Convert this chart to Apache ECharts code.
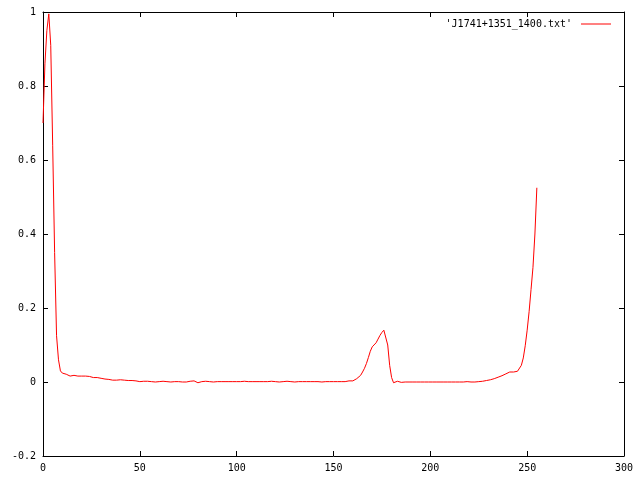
<!DOCTYPE html>
<html>
<head>
<meta charset="utf-8">
<script src="https://cdn.jsdelivr.net/npm/echarts@6/dist/echarts.min.js"></script>
<style>html,body{margin:0;padding:0;background:#fff}#c{width:640px;height:480px}</style>
</head>
<body>
<div id="c"></div>
<script>
var seriesName = "'J1741+1351_1400.txt'";
var xTicks = [0, 50, 100, 150, 200, 250, 300];
var yTicks = [-0.2, 0, 0.2, 0.4, 0.6, 0.8, 1];
var intensity = [
  0.70, 0.86, 0.95, 0.995, 0.91, 0.64, 0.35, 0.125, 0.06, 0.03,
  0.024, 0.021, 0.021, 0.02, 0.016, 0.017, 0.018, 0.016, 0.016, 0.016,
  0.016, 0.016, 0.016, 0.016, 0.015, 0.012, 0.012, 0.012, 0.012, 0.012,
  0.01, 0.007, 0.008, 0.007, 0.007, 0.006, 0.005, 0.005, 0.005, 0.006,
  0.006, 0.006, 0.005, 0.003, 0.004, 0.004, 0.004, 0.003, 0.003, 0.002,
  0.001, 0.001, 0.002, 0.001, 0.002, 0.001, 0.001, 0.0, 0.0, 0.0,
  0.001, 0.001, 0.002, 0.001, 0.001, 0.001, 0.0, 0.001, 0.001, 0.001,
  0.001, 0.001, 0.0, 0.0, 0.0, 0.001, 0.002, 0.002, 0.003, 0.001,
  -0.002, 0.001, 0.001, 0.001, 0.002, 0.001, 0.001, 0.001, 0.0, 0.001,
  0.001, 0.002, 0.001, 0.001, 0.001, 0.0, 0.001, 0.002, 0.001, 0.001,
  0.001, 0.0, 0.001, 0.001, 0.002, 0.001, 0.001, 0.0, 0.001, 0.001,
  0.001, 0.002, 0.001, 0.001, 0.001, 0.0, 0.001, 0.001, 0.002, 0.001,
  0.001, 0.001, 0.0, 0.001, 0.001, 0.001, 0.002, 0.001, 0.001, 0.001,
  0.0, 0.001, 0.001, 0.002, 0.001, 0.001, 0.001, 0.0, 0.001, 0.001,
  0.001, 0.002, 0.001, 0.001, 0.0, 0.001, 0.001, 0.002, 0.001, 0.001,
  0.001, 0.0, 0.001, 0.001, 0.001, 0.0, 0.001, 0.002, 0.003, 0.001,
  0.003, 0.005, 0.009, 0.013, 0.018, 0.027, 0.037, 0.05, 0.066, 0.083,
  0.095, 0.1, 0.106, 0.116, 0.126, 0.134, 0.14, 0.145, 0.10, 0.045,
  0.012, -0.002, 0.001, 0.002, -0.003, -0.001, 0.0, 0.0, 0.0, 0.0,
  0.0, 0.0, 0.0, 0.0, 0.001, 0.0, 0.0, 0.0, 0.0, 0.0,
  0.0, 0.0, 0.0, 0.0, 0.001, 0.0, 0.0, 0.0, 0.0, 0.0,
  0.0, 0.0, 0.001, 0.0, 0.0, 0.0, 0.0, 0.0, 0.0, 0.001,
  0.0, 0.0, 0.001, 0.0, 0.001, 0.001, 0.001, 0.002, 0.003, 0.004,
  0.005, 0.006, 0.007, 0.009, 0.01, 0.013, 0.016, 0.017, 0.019, 0.022,
  0.027, 0.027, 0.027, 0.027, 0.028, 0.029, 0.033, 0.045, 0.065, 0.098,
  0.14, 0.19, 0.25, 0.31, 0.40, 0.525
];

var data = intensity.map(function (v, i) { return [i, v]; });
var font = 'DejaVu Sans Mono';
var axisLine = { show: true, onZero: false, lineStyle: { color: '#000', width: 1 } };
var tickIn = { show: true, inside: true, length: 5, lineStyle: { color: '#000', width: 1 } };

function xAx(pos, showLabel) {
  return {
    type: 'value', position: pos, min: xTicks[0], max: xTicks[xTicks.length - 1], interval: 50,
    axisLine: axisLine, axisTick: tickIn, splitLine: { show: false },
    axisLabel: { show: showLabel, color: '#000', fontFamily: font, fontSize: 10, margin: 7 }
  };
}
function yAx(pos, showLabel) {
  return {
    type: 'value', position: pos, min: yTicks[0], max: yTicks[yTicks.length - 1], interval: 0.2,
    axisLine: axisLine, axisTick: tickIn, splitLine: { show: false },
    axisLabel: { show: showLabel, color: '#000', fontFamily: font, fontSize: 10, margin: 7,
      formatter: function (v) { return String(Math.round(v * 10) / 10); } }
  };
}

var chart = echarts.init(document.getElementById('c'), null, { renderer: 'canvas' });
chart.setOption({
  animation: false,
  backgroundColor: '#fff',
  grid: { left: 43, right: 16, top: 12, bottom: 24, containLabel: false },
  legend: {
    show: true, right: 24, top: 14, align: 'right', itemGap: 0,
    itemWidth: 30, itemHeight: 1, icon: 'rect',
    textStyle: { color: '#000', fontFamily: font, fontSize: 10, padding: [0, 4, 0, 0] },
    data: [{ name: seriesName, itemStyle: { color: '#ff0000' } }]
  },
  xAxis: [xAx('bottom', true), xAx('top', false)],
  yAxis: [yAx('left', true), yAx('right', false)],
  series: [{
    name: seriesName, type: 'line', xAxisIndex: 0, yAxisIndex: 0,
    data: data, showSymbol: false, symbol: 'none',
    lineStyle: { color: '#ff0000', width: 1 }, itemStyle: { color: '#ff0000' }
  }]
});
</script>
</body>
</html>
